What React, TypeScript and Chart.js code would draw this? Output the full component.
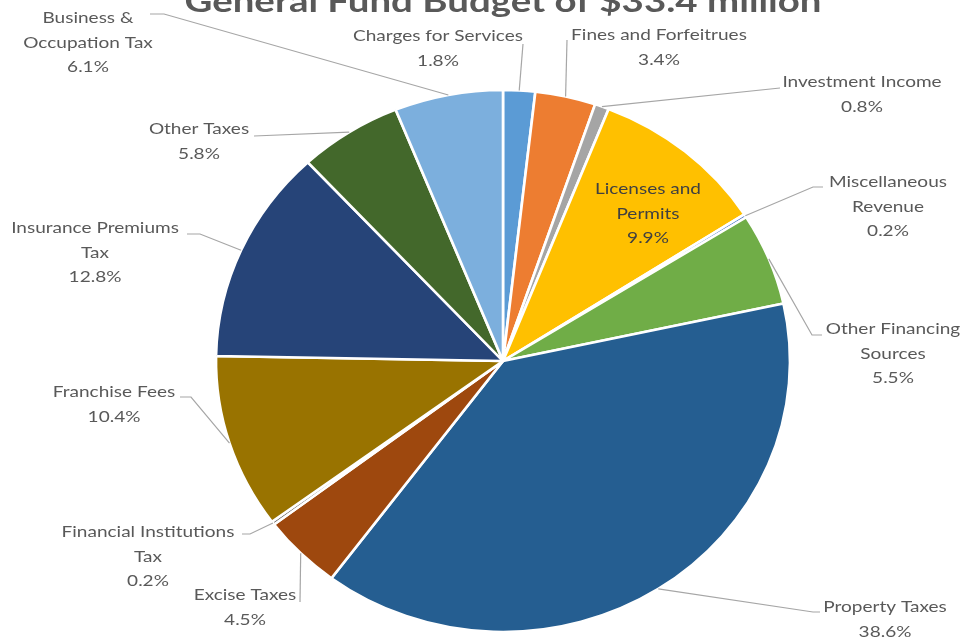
import React, { useEffect, useRef } from "react";
import { Chart, registerables } from "chart.js";

Chart.register(...registerables);

const TITLE = "General Fund Budget of $33.4 million";

const categories = [
  "Charges for Services",
  "Fines and Forfeitrues",
  "Investment Income",
  "Licenses and Permits",
  "Miscellaneous Revenue",
  "Other Financing Sources",
  "Property Taxes",
  "Excise Taxes",
  "Financial Institutions Tax",
  "Franchise Fees",
  "Insurance Premiums Tax",
  "Other Taxes",
  "Business & Occupation Tax",
];

const values = [1.8, 3.4, 0.8, 9.9, 0.2, 5.5, 38.6, 4.5, 0.2, 10.4, 12.8, 5.8, 6.1];

const colors = [
  "#5B9BD5",
  "#ED7D31",
  "#A5A5A5",
  "#FFC000",
  "#4472C4",
  "#70AD47",
  "#255E91",
  "#9E480E",
  "#636363",
  "#997300",
  "#264478",
  "#43682B",
  "#7CAFDD",
];

// label text lines (category name wrapped as in the reference)
const labelLines = [
  ["Charges for Services"],
  ["Fines and Forfeitrues"],
  ["Investment Income"],
  ["Licenses and", "Permits"],
  ["Miscellaneous", "Revenue"],
  ["Other Financing", "Sources"],
  ["Property Taxes"],
  ["Excise Taxes"],
  ["Financial Institutions", "Tax"],
  ["Franchise Fees"],
  ["Insurance Premiums", "Tax"],
  ["Other Taxes"],
  ["Business &", "Occupation Tax"],
];

// layout: label centre x, first line y, leader points from label toward slice
const labelLayout = [
  { cx: 438, y: 36, lead: [[523, 44]] },
  { cx: 659, y: 35, lead: [[567, 40]] },
  { cx: 862, y: 82, lead: [[780, 88]] },
  { cx: 648, y: 189, lead: null, inside: true },
  { cx: 888, y: 182, lead: [[823, 187], [813, 187]] },
  { cx: 893, y: 329, lead: [[822, 335], [812, 335]] },
  { cx: 885, y: 607, lead: [[820, 612], [813, 612]] },
  { cx: 245, y: 595, lead: [[300, 602]] },
  { cx: 148, y: 532, lead: [[242, 534], [250, 534]] },
  { cx: 114, y: 392, lead: [[180, 397], [191, 397]] },
  { cx: 95, y: 228, lead: [[187, 234], [200, 234]] },
  { cx: 199, y: 129, lead: [[254, 136]] },
  { cx: 88, y: 18, lead: [[150, 14], [164, 14]] },
];

const STRETCH_X = 287 / 271;
const LINE_H = 24.4;
const LABEL_FONT = "16px Lato";
const TITLE_FONT = "bold 30px Lato";
const TEXT_COLOR = "#595959";

const stretchPlugin = {
  id: "stretchPie",
  beforeDatasetsDraw(chart: any) {
    const meta = chart.getDatasetMeta(0);
    const a = meta.data[0];
    if (!a) return;
    const ctx = chart.ctx;
    ctx.save();
    ctx.translate(a.x, a.y);
    ctx.scale(STRETCH_X, 1);
    ctx.translate(-a.x, -a.y);
  },
  afterDatasetsDraw(chart: any) {
    chart.ctx.restore();
  },
};

function drawScaledText(ctx: any, text: string, cx: number, y: number, sx: number) {
  ctx.save();
  ctx.translate(cx, y);
  ctx.scale(sx, 1);
  ctx.fillText(text, 0, 0);
  ctx.restore();
}

const labelPlugin = {
  id: "pieLabels",
  afterDraw(chart: any) {
    const ctx = chart.ctx;
    const meta = chart.getDatasetMeta(0);
    ctx.save();
    // title
    ctx.font = TITLE_FONT;
    ctx.fillStyle = TEXT_COLOR;
    ctx.textAlign = "center";
    ctx.textBaseline = "alphabetic";
    const tw = ctx.measureText(TITLE).width;
    drawScaledText(ctx, TITLE, 503, 12, 637 / tw);

    ctx.font = LABEL_FONT;
    const refW = ctx.measureText("Charges for Services").width;
    const tsx = 170 / refW;
    ctx.textBaseline = "middle";
    ctx.textAlign = "center";

    meta.data.forEach((arc: any, i: number) => {
      const lay = labelLayout[i];
      const lines = [...labelLines[i], values[i].toFixed(1) + "%"];
      ctx.fillStyle = lay.inside ? "#404040" : TEXT_COLOR;
      lines.forEach((ln, k) => drawScaledText(ctx, ln, lay.cx, lay.y + k * LINE_H, tsx));
      if (lay.lead) {
        const mid = (arc.startAngle + arc.endAngle) / 2;
        const ex = arc.x + Math.cos(mid) * arc.outerRadius * STRETCH_X;
        const ey = arc.y + Math.sin(mid) * arc.outerRadius;
        ctx.beginPath();
        ctx.strokeStyle = "#A6A6A6";
        ctx.lineWidth = 1.2;
        ctx.moveTo(lay.lead[0][0], lay.lead[0][1]);
        for (let k = 1; k < lay.lead.length; k++) ctx.lineTo(lay.lead[k][0], lay.lead[k][1]);
        ctx.lineTo(ex, ey);
        ctx.stroke();
      }
    });
    ctx.restore();
  },
};

export default function App() {
  const ref = useRef<HTMLCanvasElement | null>(null);
  useEffect(() => {
    document.body.style.margin = "0";
    const canvas = ref.current!;
    const chart = new Chart(canvas, {
      type: "pie",
      data: {
        labels: categories,
        datasets: [
          {
            data: values,
            backgroundColor: colors,
            borderColor: "#FFFFFF",
            borderWidth: 2.5,
          },
        ],
      },
      options: {
        animation: false,
        responsive: false,
        devicePixelRatio: 1,
        radius: 271,
        layout: { padding: { left: 42, right: 0, top: 90, bottom: 10 } },
        plugins: {
          legend: { display: false },
          title: { display: false },
          tooltip: { enabled: false },
        },
      } as any,
      plugins: [stretchPlugin, labelPlugin],
    });
    return () => chart.destroy();
  }, []);
  return (
    <div style={{ width: 964, height: 642, background: "#fff" }}>
      <canvas ref={ref} width={964} height={642} style={{ display: "block" }} />
    </div>
  );
}
